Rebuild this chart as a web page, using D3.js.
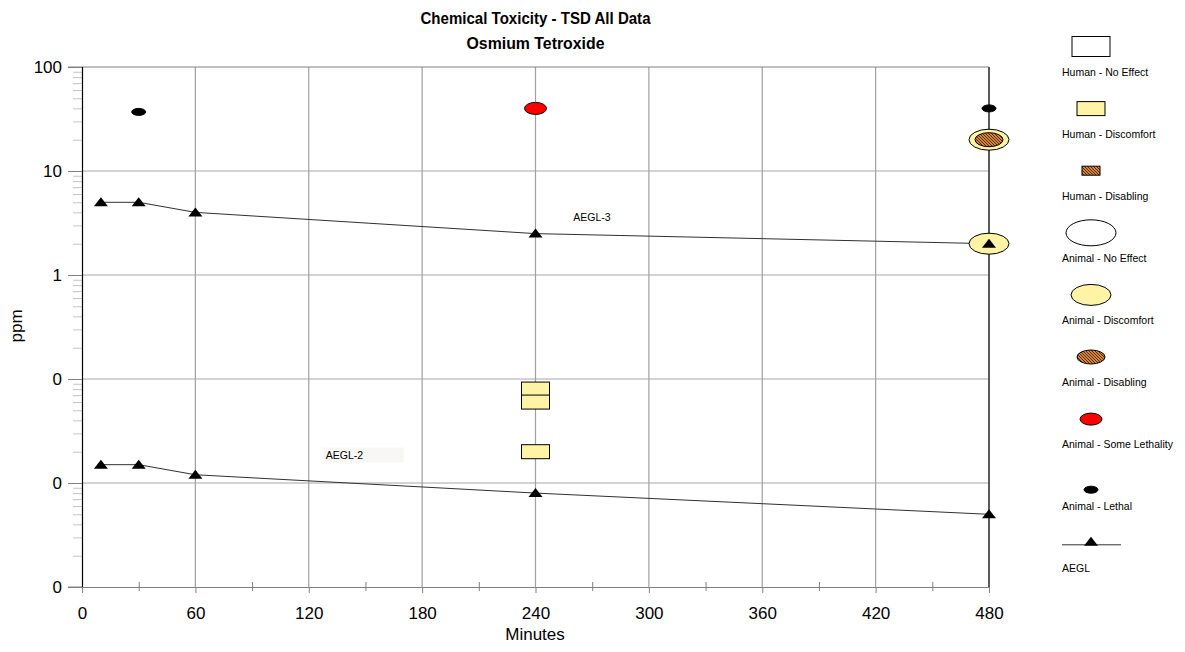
<!DOCTYPE html>
<meta charset="utf-8">
<head>
    <title>Chemical Toxicity - TSD All Data</title>
    <script src="https://cdn.jsdelivr.net/npm/d3@7"></script>
    <style>
        body { margin: 0; background: #fff; }
        text { font-family: "Liberation Sans", Arial, sans-serif; fill: #000; }
    </style>
</head>
<body>
<svg id="chart"></svg>
<script>
    // ---- data ----
    var xTicks = [0, 60, 120, 180, 240, 300, 360, 420, 480];
    var xMinorTicks = [30, 90, 150, 210, 270, 330, 390, 450];
    var yTicks = [100, 10, 1, 0.1, 0.01, 0.001];
    var yTickLabels = ["100", "10", "1", "0", "0", "0"];

    var aeglTimes = [10, 30, 60, 240, 480];
    var aegl3Values = [5, 5, 4, 2.5, 2];
    var aegl2Values = [0.015, 0.015, 0.012, 0.008, 0.005];

    var humanNoEffect = [];
    var humanDiscomfort = [[240, 0.08], [240, 0.06], [240, 0.02]];
    var humanDisabling = [];
    var animalNoEffect = [];
    var animalDiscomfort = [[480, 20], [480, 2]];
    var animalDisabling = [[480, 20]];
    var animalSomeLethality = [[240, 40]];
    var animalLethal = [[30, 37], [480, 40]];

    var aeglLabels = [["AEGL-3", 260, 3.6], ["AEGL-2", 129, 0.0184]];

    // ---- layout ----
    var W = 1185, H = 652;
    var plot = { left: 82, right: 989, top: 67, bottom: 587 };

    var svg = d3.select("#chart").attr("width", W).attr("height", H);

    var x = d3.scaleLinear().domain([0, 480]).range([plot.left, plot.right]);
    var y = d3.scaleLog().domain([0.001, 100]).range([plot.bottom, plot.top]);

    var defs = svg.append("defs");
    var hatch = defs.append("pattern")
        .attr("id", "hatch")
        .attr("patternUnits", "userSpaceOnUse")
        .attr("width", 3).attr("height", 3);
    hatch.append("rect").attr("width", 3).attr("height", 3).attr("fill", "#d2843c");
    hatch.append("path")
        .attr("d", "M-1,2 l2,2 M0,0 l3,3 M2,-1 l2,2")
        .attr("stroke", "#4a2508").attr("stroke-width", 0.9);

    // series styles (legend order)
    var series = [
        { name: "Human - No Effect", shape: "rect", w: 38, h: 20, fill: "#ffffff", data: humanNoEffect },
        { name: "Human - Discomfort", shape: "rect", w: 28, h: 14, fill: "#fff3a6", data: humanDiscomfort },
        { name: "Human - Disabling", shape: "rect", w: 18, h: 9, fill: "url(#hatch)", data: humanDisabling },
        { name: "Animal - No Effect", shape: "ellipse", w: 50, h: 26, fill: "#ffffff", data: animalNoEffect },
        { name: "Animal - Discomfort", shape: "ellipse", w: 40, h: 21, fill: "#fff3a6", data: animalDiscomfort },
        { name: "Animal - Disabling", shape: "ellipse", w: 28, h: 14, fill: "url(#hatch)", data: animalDisabling },
        { name: "Animal - Some Lethality", shape: "ellipse", w: 22, h: 12, fill: "#ff0000", data: animalSomeLethality },
        { name: "Animal - Lethal", shape: "ellipse", w: 14, h: 7, fill: "#000000", data: animalLethal, dy: -17 },
        { name: "AEGL", shape: "aegl" }
    ];

    function drawMarker(g, s, cx, cy) {
        if (s.shape === "rect") {
            g.append("rect")
                .attr("x", cx - s.w / 2).attr("y", cy - s.h / 2)
                .attr("width", s.w).attr("height", s.h)
                .attr("fill", s.fill).attr("stroke", "#000").attr("stroke-width", 1);
        } else if (s.shape === "ellipse") {
            g.append("ellipse")
                .attr("cx", cx).attr("cy", cy)
                .attr("rx", s.w / 2).attr("ry", s.h / 2)
                .attr("fill", s.fill).attr("stroke", "#000").attr("stroke-width", 1);
        }
    }

    function drawTriangle(g, cx, cy) {
        g.append("path")
            .attr("d", "M0,-5 L7,4 L-7,4 Z")
            .attr("transform", "translate(" + cx + "," + cy + ")")
            .attr("fill", "#000");
    }

    // ---- grid ----
    var grid = svg.append("g");
    grid.selectAll(".hgrid")
        .data(yTicks.filter(function(d) { return d < 100 && d > 0.001; }))
        .enter().append("line")
        .attr("x1", plot.left).attr("x2", plot.right)
        .attr("y1", function(d) { return y(d); }).attr("y2", function(d) { return y(d); })
        .attr("stroke", "#a6a6a6").attr("stroke-width", 1);
    grid.selectAll(".vgrid")
        .data(xTicks.filter(function(d) { return d > 0 && d < 480; }))
        .enter().append("line")
        .attr("x1", function(d) { return x(d); }).attr("x2", function(d) { return x(d); })
        .attr("y1", plot.top).attr("y2", plot.bottom)
        .attr("stroke", "#a0a0a0").attr("stroke-width", 1.2);
    // top border
    grid.append("line")
        .attr("x1", plot.left - 14).attr("x2", plot.right)
        .attr("y1", y(100)).attr("y2", y(100))
        .attr("stroke", "#808080");
    // right border (480)
    grid.append("line")
        .attr("x1", x(480)).attr("x2", x(480))
        .attr("y1", plot.top).attr("y2", plot.bottom)
        .attr("stroke", "#5a5a5a").attr("stroke-width", 2);

    // ---- axes ----
    var minorY = [];
    yTicks.forEach(function(d) {
        if (d < 100) for (var k = 2; k <= 9; k++) minorY.push(d * k);
    });
    var yMinor = svg.append("g")
        .attr("transform", "translate(" + plot.left + ",0)")
        .call(d3.axisLeft(y).tickValues(minorY).tickSize(9).tickFormat(""));
    yMinor.select(".domain").remove();
    yMinor.selectAll("line").attr("stroke", "#c4c4c4");

    var yAxis = svg.append("g")
        .attr("transform", "translate(" + plot.left + ",0)")
        .call(d3.axisLeft(y).tickValues(yTicks).tickSize(14).tickPadding(6)
            .tickFormat(function(d, i) { return yTickLabels[i]; }));
    yAxis.select(".domain").attr("stroke", "#000").attr("stroke-width", 1.2);
    yAxis.selectAll("line").attr("stroke", "#808080");
    yAxis.selectAll("text").style("font-size", "17px")
        .style("font-family", '"Liberation Sans", Arial, sans-serif').attr("fill", "#000");

    var xMinor = svg.append("g")
        .attr("transform", "translate(0," + (plot.bottom + 4) + ")")
        .call(d3.axisBottom(x).tickValues(xMinorTicks).tickSize(-9).tickFormat(""));
    xMinor.select(".domain").remove();
    xMinor.selectAll("line").attr("stroke", "#808080");

    var xAxis = svg.append("g")
        .attr("transform", "translate(0," + plot.bottom + ")")
        .call(d3.axisBottom(x).tickValues(xTicks).tickSize(6).tickPadding(14).tickSizeOuter(0));
    xAxis.select(".domain").attr("stroke", "#808080");
    xAxis.selectAll("line").attr("stroke", "#808080");
    xAxis.selectAll("text").style("font-size", "17px")
        .style("font-family", '"Liberation Sans", Arial, sans-serif').attr("fill", "#000");
    svg.append("line")
        .attr("x1", plot.left - 14).attr("x2", plot.left)
        .attr("y1", plot.bottom).attr("y2", plot.bottom)
        .attr("stroke", "#808080");

    // ---- AEGL lines ----
    var line = d3.line()
        .x(function(d) { return x(d[0]); })
        .y(function(d) { return y(d[1]); });
    var aegl3 = d3.zip(aeglTimes, aegl3Values);
    var aegl2 = d3.zip(aeglTimes, aegl2Values);

    // AEGL-2 label background
    svg.append("rect")
        .attr("x", x(aeglLabels[1][1]) - 2).attr("y", y(aeglLabels[1][2]) - 8)
        .attr("width", 80).attr("height", 15)
        .attr("fill", "#f8f7f5");

    var lines = svg.append("g");
    [aegl3, aegl2].forEach(function(pts) {
        lines.append("path").datum(pts)
            .attr("d", line).attr("fill", "none")
            .attr("stroke", "#303030").attr("stroke-width", 1);
    });

    // ---- series markers ----
    var marks = svg.append("g");
    series.forEach(function(s) {
        if (!s.data) return;
        s.data.forEach(function(p) { drawMarker(marks, s, x(p[0]), y(p[1])); });
    });
    aegl3.concat(aegl2).forEach(function(p) { drawTriangle(marks, x(p[0]), y(p[1])); });

    svg.selectAll(".aegl-label")
        .data(aeglLabels)
        .enter().append("text")
        .attr("x", function(d) { return x(d[1]); })
        .attr("y", function(d) { return y(d[2]); })
        .attr("dy", "0.35em")
        .style("font-size", "10.5px")
        .text(function(d) { return d[0]; });

    // ---- titles ----
    svg.append("text").attr("x", (plot.left + plot.right) / 2).attr("y", 24)
        .attr("text-anchor", "middle").style("font-size", "16.5px").style("font-weight", "bold")
        .attr("textLength", 230).attr("lengthAdjust", "spacingAndGlyphs")
        .text("Chemical Toxicity - TSD All Data");
    svg.append("text").attr("x", (plot.left + plot.right) / 2).attr("y", 49)
        .attr("text-anchor", "middle").style("font-size", "16.5px").style("font-weight", "bold")
        .attr("textLength", 138).attr("lengthAdjust", "spacingAndGlyphs")
        .text("Osmium Tetroxide");
    svg.append("text").attr("x", 535).attr("y", 640)
        .attr("text-anchor", "middle").style("font-size", "17px").text("Minutes");
    svg.append("text")
        .attr("transform", "translate(22,326) rotate(-90)")
        .attr("text-anchor", "middle").style("font-size", "17px").text("ppm");

    // ---- legend ----
    var legend = svg.append("g").attr("id", "legend");
    var legX = 1091;
    series.forEach(function(s, i) {
        var ly = 72 + i * 62.1;
        var my = ly + (s.dy || -25.5);
        if (s.shape === "aegl") {
            legend.append("line")
                .attr("x1", 1062).attr("x2", 1121)
                .attr("y1", ly - 24).attr("y2", ly - 24)
                .attr("stroke", "#303030");
            drawTriangle(legend, legX, ly - 27);
        } else {
            drawMarker(legend, s, legX, my);
        }
        legend.append("text")
            .attr("x", 1062).attr("y", ly).attr("dy", "0.35em")
            .style("font-size", "10.5px")
            .text(s.name);
    });
</script>
</body>
</html>
